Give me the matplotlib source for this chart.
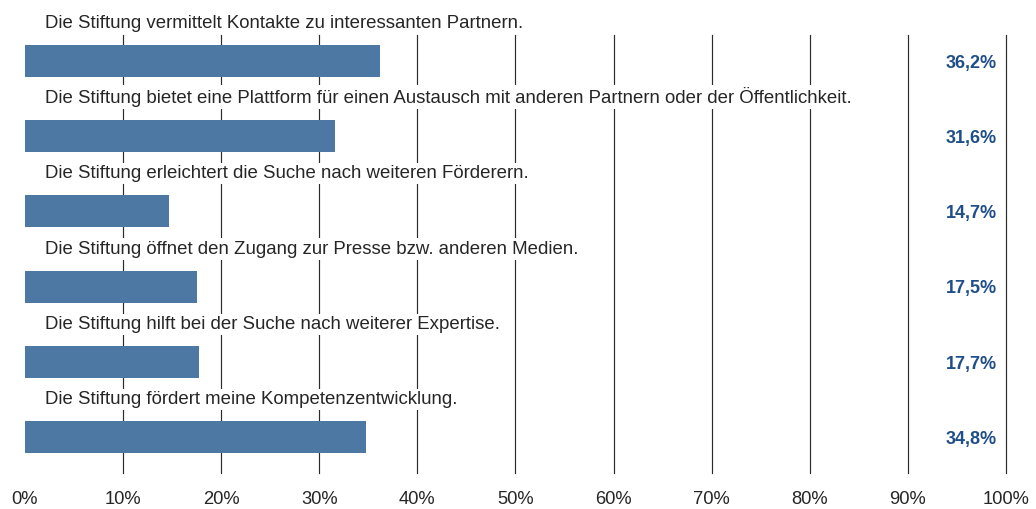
import numpy as np
import matplotlib
matplotlib.use("Agg")
import matplotlib.pyplot as plt

# ------------------------------------------------------------------------------
# data
# ------------------------------------------------------------------------------
statements = [
    "Die Stiftung vermittelt Kontakte zu interessanten Partnern.",
    "Die Stiftung bietet eine Plattform für einen Austausch mit anderen Partnern oder der Öffentlichkeit.",
    "Die Stiftung erleichtert die Suche nach weiteren Förderern.",
    "Die Stiftung öffnet den Zugang zur Presse bzw. anderen Medien.",
    "Die Stiftung hilft bei der Suche nach weiterer Expertise.",
    "Die Stiftung fördert meine Kompetenzentwicklung.",
]
shares = [36.2, 31.6, 14.7, 17.5, 17.7, 34.8]
tick_values = [0, 10, 20, 30, 40, 50, 60, 70, 80, 90, 100]
tick_labels = [f"{t}%" for t in tick_values]

bar_color = "#4d78a3"
value_color = "#1f4e89"
text_color = "#262626"

plt.rcParams["font.family"] = ["Liberation Sans", "DejaVu Sans"]

fig = plt.figure(figsize=(10.36, 5.09), dpi=100)
ax = fig.add_axes([0.0241, 0.0707, 0.9469, 0.8605])

y = np.arange(len(statements))
ax.barh(y, shares, height=0.425, color=bar_color, zorder=2)

# vertical grid lines at 10..100 %
for t in tick_values[1:]:
    ax.axvline(t, color="#2b2b2b", linewidth=0.85, zorder=1, clip_on=False)

for i, (label, val) in enumerate(zip(statements, shares)):
    ax.text(2.0, i - 0.44, label, ha="left", va="baseline", fontsize=13.4,
            color=text_color, zorder=3, clip_on=False,
            bbox=dict(facecolor="white", edgecolor="none", pad=1.5))
    ax.text(99.1, i + 0.03, f"{val:.1f}%".replace(".", ","), ha="right", va="center",
            fontsize=13, fontweight="bold", color=value_color, zorder=3)

ax.set_xlim(0, 100)
ax.set_ylim(len(statements) - 1 + 0.479, -0.346)
ax.set_xticks(tick_values)
ax.set_xticklabels(tick_labels, fontsize=13.2, color=text_color)
ax.set_yticks([])
ax.tick_params(axis="x", length=0, pad=13)
for s in ax.spines.values():
    s.set_visible(False)

fig.savefig("out.png", dpi=100)
